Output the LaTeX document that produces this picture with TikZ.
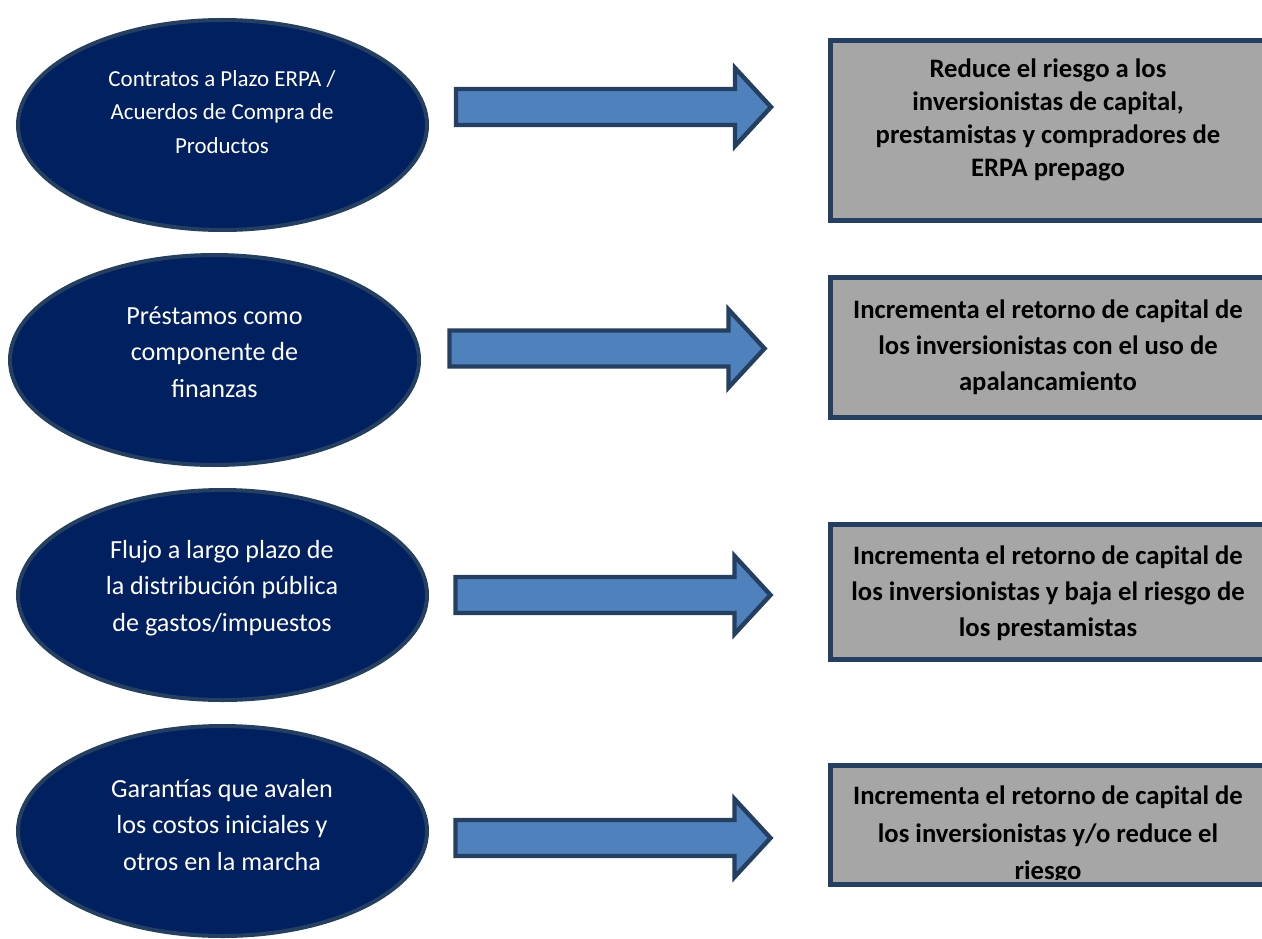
\documentclass[tikz,border=0pt]{standalone}
\usepackage{fontspec}
\setmainfont{Carlito}
\usetikzlibrary{shapes.geometric}
\definecolor{navy}{HTML}{002060}
\definecolor{edgecol}{HTML}{243F60}
\definecolor{arrowfill}{HTML}{4F81BD}
\definecolor{boxgray}{HTML}{A6A6A6}
\tikzset{
  ell/.style={ellipse, draw=edgecol, fill=navy, line width=3pt,
    minimum width=306.75pt, minimum height=157.5pt, inner sep=0pt},
  elltext/.style={text=white, align=center, inner sep=0pt,
    font=\fontsize{19.6}{27.5}\selectfont},
  gbox/.style={rectangle, draw=edgecol, fill=boxgray, line width=3.75pt,
    minimum width=326.25pt, inner sep=0pt},
  boxtext/.style={text=black, align=center, inner sep=0pt,
    font=\fontsize{20}{27}\selectfont\bfseries},
  arrowshape/.style={draw=edgecol, fill=arrowfill, line width=3.3pt, line join=miter},
  barrow/.pic={\path[arrowshape] (0,-18) -- (279,-18) -- (279,-39) -- (315,0) -- (279,39) -- (279,18) -- (0,18) -- cycle;}
}
\begin{document}
\begin{tikzpicture}[x=0.75pt,y=-0.75pt]
\useasboundingbox (0,0) rectangle (1262,938);
% ellipses
\node[ell] (e1) at (222.5,125) {};
\node[ell] (e2) at (214.5,360) {};
\node[ell] (e3) at (222.5,595) {};
\node[ell] (e4) at (222.5,831) {};
\node[elltext, font=\fontsize{17.2}{25}\selectfont] (t1) at (222,112) {Contratos a Plazo ERPA /\\Acuerdos de Compra de\\Productos};
\node[elltext] (t2) at (214.5,352) {Préstamos como\\componente de\\finanzas};
\node[elltext] (t3) at (222,588) {Flujo a largo plazo de\\la distribución pública\\de gastos/impuestos};
\node[elltext] (t4) at (222,825) {Garantías que avalen\\los costos iniciales y\\otros en la marcha};
% arrows
\pic (a1) at (456,107) {barrow};
\pic (a2) at (449.5,348.5) {barrow};
\pic (a3) at (455.5,595) {barrow};
\pic (a4) at (455.5,838) {barrow};
% boxes
\node[gbox, minimum height=135pt] (b1) at (1048,130.5) {};
\node[gbox, minimum height=105pt] (b2) at (1048,347.5) {};
\node[gbox, minimum height=101.25pt] (b3) at (1048,592) {};
\node[gbox, minimum height=89.25pt] (b4) at (1048,825) {};
\node[boxtext, font=\fontsize{20}{24.75}\selectfont\bfseries] (bt1) at (1048,119.5) {Reduce el riesgo a los\\inversionistas de capital,\\prestamistas y compradores de\\ERPA prepago};
\node[boxtext] (bt2) at (1048,347) {Incrementa el retorno de capital de\\los inversionistas con el uso de\\apalancamiento};
\node[boxtext] (bt3) at (1048,593) {Incrementa el retorno de capital de\\los inversionistas y baja el riesgo de\\los prestamistas};
\begin{scope}
\clip (832,767) rectangle (1262,879);
\node[boxtext, font=\fontsize{20}{28}\selectfont\bfseries] (bt4) at (1048,835) {Incrementa el retorno de capital de\\los inversionistas y/o reduce el\\riesgo};
\end{scope}
\end{tikzpicture}
\end{document}
